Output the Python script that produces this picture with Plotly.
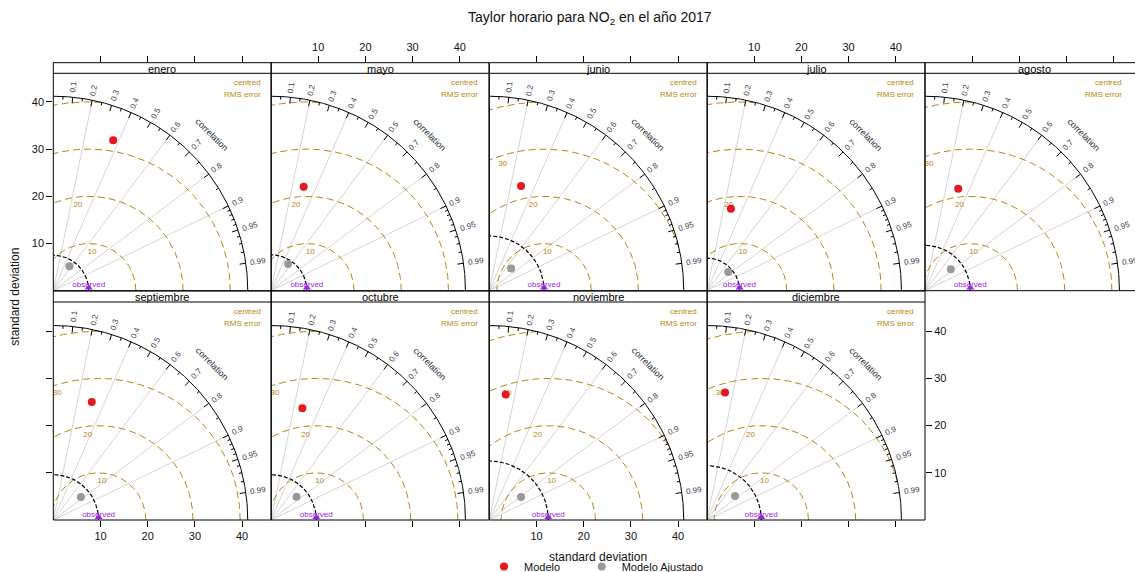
import numpy as np
import plotly.graph_objects as go

# ---------------- data ----------------
months = ["enero", "mayo", "junio", "julio", "agosto",
          "septiembre", "octubre", "noviembre", "diciembre"]
obs_sd = [7.5, 7.6, 11.6, 6.9, 9.6, 9.6, 9.6, 12.5, 11.5]
mod_sd = [34.3, 23.1, 23.2, 18.1, 22.7, 26.3, 24.6, 26.8, 27.3]
mod_cor = [0.37, 0.30, 0.29, 0.28, 0.31, 0.31, 0.27, 0.13, 0.14]
adj_sd = [6.2, 6.7, 6.6, 6.0, 7.1, 7.6, 7.3, 8.3, 7.8]
adj_cor = [0.55, 0.54, 0.70, 0.75, 0.77, 0.77, 0.74, 0.81, 0.76]
sd_ticks = [10, 20, 30, 40]
rms_levels = [10, 20, 30, 40]
rms_labelled = [10, 20, 30]
cor_labels = [0.1, 0.2, 0.3, 0.4, 0.5, 0.6, 0.7, 0.8, 0.9, 0.95, 0.99]
cor_minor = [0.05, 0.15, 0.25, 0.35, 0.45, 0.55, 0.65, 0.75, 0.85,
             0.91, 0.92, 0.93, 0.94, 0.96, 0.97, 0.98]
cor_lines = [0.2, 0.4, 0.6, 0.8, 0.9]
max_sd = 41.2

# ---------------- geometry / style ----------------
W, H = 1135, 572
PX = 4.72                      # pixels per SD unit
col_left = [53.3, 271.0, 489.3, 707.0, 925.0]
panel_w = 218.0
row_strip_top = [62.7, 291.0]
row_plot_top = [73.3, 302.0]
row_bottom = [290.7, 520.0]
key_right = [209.4, 209.4, 209.4, 209.4, 199.0]
FONT = "Arial, Liberation Sans, sans-serif"
GOLD = "#B8860B"
PURPLE = "#A020F0"
RED = "#E8161E"
GREY = "#999999"
CORTXT = "#3a4150"
rms_label_angle = {10: 86.0, 20: 96.6, 30: 107.0}
rms_label_drop = 1.8


def pxx(p):
    return p / W


def pxy(p):
    return 1 - p / H


fig = go.Figure()
annotations = []
shapes = []
axes = {}

for i, month in enumerate(months):
    row, col = divmod(i, 5)
    n = i + 1
    xname = "x" if n == 1 else f"x{n}"
    yname = "y" if n == 1 else f"y{n}"
    xl = col_left[col]
    xr = min(xl + panel_w, W)
    yt = row_strip_top[row]
    yb = row_bottom[row]
    xrange_ = [0, (xr - xl) / PX]
    yrange_ = [0, (yb - yt) / PX]

    xa = dict(domain=[pxx(xl), pxx(xr)], range=xrange_, anchor=yname,
              showgrid=False, zeroline=False, showline=False,
              fixedrange=True, tickvals=sd_ticks, ticks="", showticklabels=False,
              tickfont=dict(size=11, color="#111"))
    ya = dict(domain=[pxy(yb), pxy(yt)], range=yrange_, anchor=xname,
              showgrid=False, zeroline=False, showline=False,
              fixedrange=True, tickvals=sd_ticks, ticks="", showticklabels=False,
              tickfont=dict(size=11, color="#111"))
    if row == 0:
        xa.update(side="top", ticks="outside", ticklen=6, tickcolor="black",
                  showticklabels=(col in (1, 3)))
    else:
        xa.update(side="bottom", ticks="outside", ticklen=6, tickcolor="black",
                  showticklabels=(col in (0, 2)))
    if i == 0:
        ya.update(side="left", ticks="outside", ticklen=6, tickcolor="black",
                  showticklabels=True)
    if i == 5:
        ya.update(side="left", ticks="outside", ticklen=6, tickcolor="black",
                  showticklabels=False)
    if i == 8:
        ya.update(side="right", ticks="outside", ticklen=6, tickcolor="black",
                  showticklabels=True)
    axes["xaxis" if n == 1 else f"xaxis{n}"] = xa
    axes["yaxis" if n == 1 else f"yaxis{n}"] = ya

    R = max_sd
    obs = obs_sd[i]

    # correlation grid lines
    lx, ly = [], []
    for c in cor_lines:
        lx += [0, R * c, None]
        ly += [0, R * np.sqrt(1 - c * c), None]
    fig.add_trace(go.Scatter(x=lx, y=ly, mode="lines", xaxis=xname, yaxis=yname,
                             line=dict(color="#cfcfcf", width=0.9),
                             hoverinfo="skip", showlegend=False))

    # centred RMS error circles
    th = np.linspace(0, np.pi, 1441)
    ax_, ay_ = [], []
    for r in rms_levels:
        cx = obs + r * np.cos(th)
        cy = r * np.sin(th)
        ok = (cx >= 0) & (cx * cx + cy * cy <= R * R)
        for xx, yy, k in zip(cx, cy, ok):
            if k:
                ax_.append(xx)
                ay_.append(yy)
            else:
                if ax_ and ax_[-1] is not None:
                    ax_.append(None)
                    ay_.append(None)
        ax_.append(None)
        ay_.append(None)
    fig.add_trace(go.Scatter(x=ax_, y=ay_, mode="lines", xaxis=xname, yaxis=yname,
                             line=dict(color=GOLD, width=1, dash="7px,4px"),
                             hoverinfo="skip", showlegend=False))

    # RMS labels (text trace so markers cover them)
    tx, ty, tt = [], [], []
    for r in rms_labelled:
        a = np.radians(rms_label_angle[r])
        tx.append(obs + r * np.cos(a))
        ty.append(r * np.sin(a) - rms_label_drop)
        tt.append(str(r))
    fig.add_trace(go.Scatter(x=tx, y=ty, text=tt, mode="text", xaxis=xname, yaxis=yname,
                             textfont=dict(size=8, color=GOLD, family=FONT),
                             hoverinfo="skip", showlegend=False))

    # outer arc
    ta = np.linspace(0, np.pi / 2, 300)
    fig.add_trace(go.Scatter(x=R * np.cos(ta), y=R * np.sin(ta), mode="lines",
                             xaxis=xname, yaxis=yname,
                             line=dict(color="black", width=1),
                             hoverinfo="skip", showlegend=False))
    # ticks on the outer arc
    kx, ky = [], []
    for c in cor_labels:
        s = np.sqrt(1 - c * c)
        kx += [R * c, 0.968 * R * c, None]
        ky += [R * s, 0.968 * R * s, None]
    for c in cor_minor:
        s = np.sqrt(1 - c * c)
        kx += [R * c, 0.984 * R * c, None]
        ky += [R * s, 0.984 * R * s, None]
    fig.add_trace(go.Scatter(x=kx, y=ky, mode="lines", xaxis=xname, yaxis=yname,
                             line=dict(color="black", width=1),
                             hoverinfo="skip", showlegend=False))

    # observed arc
    fig.add_trace(go.Scatter(x=obs * np.cos(ta), y=obs * np.sin(ta), mode="lines",
                             xaxis=xname, yaxis=yname,
                             line=dict(color="black", width=1.2, dash="4px,2px"),
                             hoverinfo="skip", showlegend=False))
    # observed marker + label
    fig.add_trace(go.Scatter(x=[obs], y=[0.6], mode="markers", xaxis=xname, yaxis=yname,
                             marker=dict(symbol="triangle-up", size=7, color=PURPLE),
                             hoverinfo="skip", showlegend=False, cliponaxis=False))
    fig.add_trace(go.Scatter(x=[obs], y=[1.15], text=["observed"], mode="text",
                             xaxis=xname, yaxis=yname,
                             textfont=dict(size=8, color=PURPLE, family=FONT),
                             hoverinfo="skip", showlegend=False, cliponaxis=False))

    # model points
    for sdv, cv, colr, name, lg in [(mod_sd[i], mod_cor[i], RED, "Modelo", "legend"),
                                    (adj_sd[i], adj_cor[i], GREY, "Modelo Ajustado", "legend2")]:
        fig.add_trace(go.Scatter(x=[sdv * cv], y=[sdv * np.sqrt(1 - cv * cv)],
                                 mode="markers", xaxis=xname, yaxis=yname,
                                 marker=dict(size=8, color=colr), name=name,
                                 legendgroup=name, showlegend=(i == 0), legend=lg,
                                 hovertemplate=name + "<extra></extra>"))

    # correlation labels
    for c in cor_labels:
        txt = f"{c:g}"
        wpx = 4.45 * sum(ch.isdigit() for ch in txt) + 2.2
        rr = 1.025 * R + (wpx / 2) / PX
        a = np.arccos(c)
        annotations.append(dict(x=rr * np.cos(a), y=rr * np.sin(a), xref=xname, yref=yname,
                                text=txt, showarrow=False, textangle=-np.degrees(a),
                                xanchor="center", yanchor="middle",
                                font=dict(size=8, color=CORTXT, family=FONT)))
    a45 = np.radians(44.5)
    annotations.append(dict(x=1.146 * R * np.cos(a45), y=1.146 * R * np.sin(a45),
                            xref=xname, yref=yname, text="correlation", showarrow=False,
                            textangle=45, xanchor="center", yanchor="middle",
                            font=dict(size=9, color="#2a2f3a", family=FONT)))

    # centred RMS error key
    ptop = row_plot_top[row]
    kr = xl + key_right[col]
    annotations.append(dict(x=pxx(kr), y=pxy(ptop + 9.4), xref="paper", yref="paper",
                            text="centred", showarrow=False, xanchor="right", yanchor="middle",
                            font=dict(size=8, color=GOLD, family=FONT)))
    annotations.append(dict(x=pxx(kr), y=pxy(ptop + 21.0), xref="paper", yref="paper",
                            text="RMS error", showarrow=False, xanchor="right", yanchor="middle",
                            font=dict(size=8, color=GOLD, family=FONT)))

    # strip and frame
    shapes.append(dict(type="rect", xref="paper", yref="paper",
                       x0=pxx(xl), x1=pxx(xl + panel_w), y0=pxy(yb), y1=pxy(yt),
                       line=dict(color="black", width=1), fillcolor="rgba(0,0,0,0)"))
    shapes.append(dict(type="line", xref="paper", yref="paper",
                       x0=pxx(xl), x1=pxx(xl + panel_w), y0=pxy(ptop), y1=pxy(ptop),
                       line=dict(color="black", width=1)))
    annotations.append(dict(x=pxx(xl + panel_w / 2), y=pxy((yt + ptop) / 2 + 0.5),
                            xref="paper", yref="paper", text=month, showarrow=False,
                            xanchor="center", yanchor="middle",
                            font=dict(size=11, color="black", family=FONT)))

# titles
annotations.append(dict(x=pxx(590), y=pxy(18.3), xref="paper", yref="paper",
                        text="Taylor horario para NO<sub>2</sub> en el año 2017",
                        showarrow=False, xanchor="center", yanchor="middle",
                        font=dict(size=14, color="#111", family=FONT)))
annotations.append(dict(x=pxx(15), y=pxy(296.7), xref="paper", yref="paper",
                        text="standard deviation", textangle=-90,
                        showarrow=False, xanchor="center", yanchor="middle",
                        font=dict(size=12, color="#111", family=FONT)))
annotations.append(dict(x=pxx(597.5), y=pxy(556.7), xref="paper", yref="paper",
                        text="standard deviation",
                        showarrow=False, xanchor="center", yanchor="middle",
                        font=dict(size=12, color="#111", family=FONT)))

leg_common = dict(orientation="h", yanchor="middle", xanchor="left",
                  font=dict(size=11, color="#111", family=FONT),
                  bgcolor="rgba(0,0,0,0)", itemclick=False, itemdoubleclick=False)

fig.update_layout(
    width=W, height=H, margin=dict(l=0, r=0, t=0, b=0, autoexpand=False),
    paper_bgcolor="white", plot_bgcolor="white",
    font=dict(family=FONT, color="#111"),
    annotations=annotations, shapes=shapes,
    showlegend=True,
    legend=dict(x=pxx(484), y=pxy(566.5), **leg_common),
    legend2=dict(x=pxx(581.7), y=pxy(566.5), **leg_common),
    **axes,
)

fig.write_html("out.html", config={"displayModeBar": False},
               post_script="document.body.style.margin='0px';")
